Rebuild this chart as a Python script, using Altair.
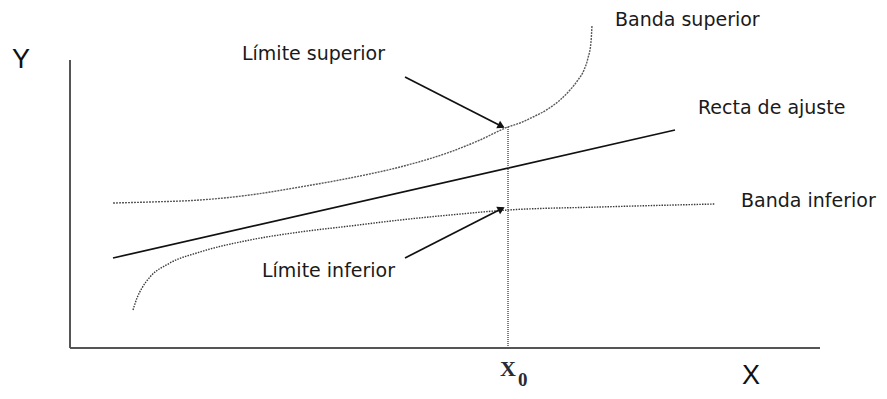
import altair as alt
import pandas as pd
import numpy as np

# ---- data (picture coordinates, y grows downward) ----
upper_x = [113, 150, 200, 250, 300, 350, 400, 450, 480, 508, 520, 533, 548, 560, 570, 578, 584, 588, 591, 592]
upper_y = [203, 202, 200, 195, 187, 178, 167, 152, 140, 127, 123, 117, 109, 100, 90, 80, 70, 58, 42, 25]

lower_x = [133, 137, 142, 150, 170, 200, 250, 300, 350, 400, 450, 508, 600, 715]
lower_y = [310, 298, 288, 277, 263, 252, 240, 232, 226, 220, 215, 210, 207, 204]

fit_x = [113, 675]
fit_y = [258, 130]

x0_line_x = [508, 508]
x0_line_y = [127, 348]

yaxis_x = [70, 70]
yaxis_y = [60, 348]
xaxis_x = [70, 820]
xaxis_y = [348, 348]

arrow_up_x = [405, 503]
arrow_up_y = [77, 127]
arrow_lo_x = [405, 503]
arrow_lo_y = [258, 208]

labels = ["Límite superior", "Límite inferior", "Banda superior", "Recta de ajuste", "Banda inferior"]
label_x = [242, 262, 615, 698, 741]
label_y = [60, 277, 26, 114, 207]

axis_labels = ["Y", "X"]
axis_label_x = [12, 742]
axis_label_y = [68, 384]

W, H = 871, 383

def line_df(xv, yv):
    return pd.DataFrame({"x": xv, "y": yv, "o": range(len(xv))})

def X():
    return alt.X("x:Q", scale=alt.Scale(domain=[8, 8 + W]), axis=None)

def Y():
    return alt.Y("y:Q", scale=alt.Scale(domain=[8, 8 + H], reverse=True), axis=None)

def line(xv, yv, color, width, dash=None, interp="linear"):
    kw = dict(color=color, strokeWidth=width, interpolate=interp, clip=False)
    if dash:
        kw["strokeDash"] = dash
    return alt.Chart(line_df(xv, yv)).mark_line(**kw).encode(x=X(), y=Y(), order="o:Q")

layers = []
layers.append(line(yaxis_x, yaxis_y, "#555555", 2))
layers.append(line(xaxis_x, xaxis_y, "#555555", 2))
layers.append(line(upper_x, upper_y, "#5a5a5a", 1.4, [2, 1], "monotone"))
layers.append(line(lower_x, lower_y, "#3a3a3a", 1.4, [1.5, 1.2], "monotone"))
layers.append(line(fit_x, fit_y, "#111111", 1.7))
layers.append(line(x0_line_x, x0_line_y, "#555555", 1.5, [1, 1]))
layers.append(line(arrow_up_x, arrow_up_y, "#111111", 1.7))
layers.append(line(arrow_lo_x, arrow_lo_y, "#111111", 1.7))

# arrowheads
heads = []
for ax, ay in [(arrow_up_x, arrow_up_y), (arrow_lo_x, arrow_lo_y)]:
    dx, dy = ax[1] - ax[0], ay[1] - ay[0]
    L = np.hypot(dx, dy)
    ux, uy = dx / L, dy / L
    ang = float(np.degrees(np.arctan2(dx, -dy))) % 360
    heads.append({"x": ax[1] - 3 * ux, "y": ay[1] - 3 * uy, "a": ang})
hdf = pd.DataFrame(heads)
layers.append(
    alt.Chart(hdf).mark_point(shape="triangle", filled=True, size=70, color="#111111", opacity=1, clip=False)
    .encode(x=X(), y=Y(), angle=alt.Angle("a:Q", scale=None))
)

tdf = pd.DataFrame({"x": label_x, "y": label_y, "t": labels})
layers.append(
    alt.Chart(tdf).mark_text(align="left", baseline="alphabetic", font="DejaVu Sans",
                             fontSize=19, color="#1a1a1a", clip=False)
    .encode(x=X(), y=Y(), text="t:N")
)
adf = pd.DataFrame({"x": axis_label_x, "y": axis_label_y, "t": axis_labels})
layers.append(
    alt.Chart(adf).mark_text(align="left", baseline="alphabetic", font="Liberation Sans",
                             fontSize=27, color="#111111", clip=False)
    .encode(x=X(), y=Y(), text="t:N")
)
x0df = pd.DataFrame({"x": [500], "y": [376], "t": ["X"]})
sub_df = pd.DataFrame({"x": [518], "y": [386], "t": ["0"]})
layers.append(
    alt.Chart(x0df).mark_text(align="left", baseline="alphabetic", font="Liberation Serif",
                              fontSize=22, fontWeight="bold", color="#2a2a35", clip=False)
    .encode(x=X(), y=Y(), text="t:N")
)
layers.append(
    alt.Chart(sub_df).mark_text(align="left", baseline="alphabetic", font="Liberation Serif",
                                fontSize=19, fontWeight="bold", color="#2a2a35", clip=False)
    .encode(x=X(), y=Y(), text="t:N")
)

chart = alt.layer(*layers).properties(width=W, height=H, padding=0, autosize="none",
                                      background="white").configure_view(stroke=None)
chart.save("out.html", embed_options={"renderer": "svg", "actions": False})
